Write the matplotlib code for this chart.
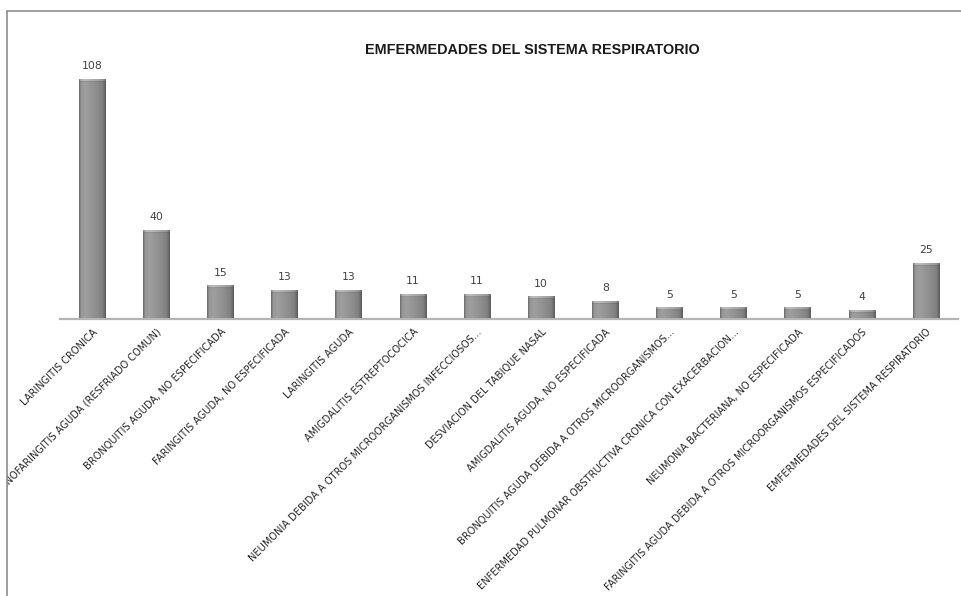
import numpy as np
import matplotlib
matplotlib.use("Agg")
import matplotlib.pyplot as plt
from matplotlib.colors import LinearSegmentedColormap
from matplotlib.transforms import Bbox, TransformedBbox
from matplotlib.patches import Rectangle

categories = [
    "LARINGITIS CRONICA",
    "RINOFARINGITIS AGUDA (RESFRIADO COMUN)",
    "BRONQUITIS AGUDA, NO ESPECIFICADA",
    "FARINGITIS AGUDA, NO ESPECIFICADA",
    "LARINGITIS AGUDA",
    "AMIGDALITIS ESTREPTOCOCICA",
    "NEUMONIA DEBIDA A OTROS MICROORGANISMOS INFECCIOSOS...",
    "DESVIACION DEL TABIQUE NASAL",
    "AMIGDALITIS AGUDA, NO ESPECIFICADA",
    "BRONQUITIS AGUDA DEBIDA A OTROS MICROORGANISMOS...",
    "ENFERMEDAD PULMONAR OBSTRUCTIVA CRONICA CON EXACERBACION...",
    "NEUMONIA BACTERIANA, NO ESPECIFICADA",
    "FARINGITIS AGUDA DEBIDA A OTROS MICROORGANISMOS ESPECIFICADOS",
    "EMFERMEDADES DEL SISTEMA RESPIRATORIO",
]
values = [108, 40, 15, 13, 13, 11, 11, 10, 8, 5, 5, 5, 4, 25]
title = "EMFERMEDADES DEL SISTEMA RESPIRATORIO"

W, H = 961, 596
fig = plt.figure(figsize=(W / 100, H / 100), dpi=100)
fig.patch.set_facecolor("white")

# outer chart frame (left and top edges visible)
fig.add_artist(Rectangle((7 / W, -0.05), 1.2, 1 - 11 / H + 0.05,
                         transform=fig.transFigure, fill=False,
                         edgecolor="#8c8c8c", linewidth=1.2))

ax_left, ax_right = 60 / W, 958 / W
ax_bottom = (H - 318.5) / H
ymax = 120
px_per_unit = 240 / 108
ax_height = ymax * px_per_unit / H
ax = fig.add_axes([ax_left, ax_bottom, ax_right - ax_left, ax_height])
ax.set_facecolor("none")

x = np.arange(len(categories))
bars = ax.bar(x, values, width=0.41, color="#8a8a8a", edgecolor="none", zorder=2)
ax.set_xlim(-0.5, len(categories) - 0.5)
ax.set_ylim(0, ymax)

# shaded cylinder-like fill for each bar
profile = LinearSegmentedColormap.from_list(
    "barshade",
    [(0.0, "#6a6a6a"), (0.08, "#989898"), (0.25, "#9e9e9e"),
     (0.6, "#8f8f8f"), (0.88, "#808080"), (1.0, "#5c5c5c")])
ncols = 64
row = profile(np.linspace(0, 1, ncols))[:, :3]
for b, v in zip(bars, values):
    hpx = max(int(round(v * px_per_unit)), 4)
    img = np.repeat(row[None, :, :], hpx, axis=0)
    # lighter bevel along the top of the bar
    img[0:3] = np.clip(img[0:3] * 1.18, 0, 1)
    img[3] = img[3] * 0.92
    im = ax.imshow(img, extent=[b.get_x(), b.get_x() + b.get_width(), 0, v],
                   aspect="auto", interpolation="bilinear", zorder=3,
                   origin="upper")
    im.set_clip_path(b)

for xi, v in zip(x, values):
    ax.annotate(str(v), (xi, v), xytext=(0, 5.5), textcoords="offset points",
                ha="center", va="bottom", fontsize=7.8, color="#404040",
                family="DejaVu Sans")

for s in ["top", "right", "left"]:
    ax.spines[s].set_visible(False)
ax.spines["bottom"].set_color("#b4b4b4")
ax.spines["bottom"].set_linewidth(1.6)
ax.set_yticks([])
ax.set_xticks(x)
ax.tick_params(axis="x", length=0, pad=6)
ax.set_xticklabels(categories, rotation=45, ha="right", va="top",
                   rotation_mode="anchor", fontsize=7.1, color="#262626",
                   family="DejaVu Sans")

frame_clip = TransformedBbox(Bbox([[7 / W, 0], [1, 1 - 11 / H]]), fig.transFigure)
for lab in ax.get_xticklabels():
    lab.set_clip_on(True)
    lab.set_clip_box(frame_clip)

fig.text(532 / W, 1 - 50 / H, title, ha="center", va="center",
         fontsize=10.4, fontweight="bold", color="#1a1a1a",
         family="Liberation Sans")

fig.savefig("out.png", dpi=100, facecolor="white")
